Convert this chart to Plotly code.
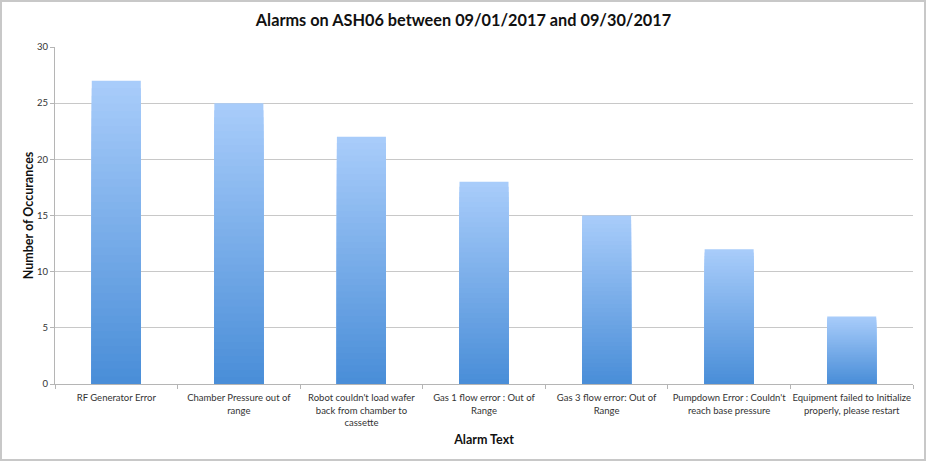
import plotly.graph_objects as go

# alarm categories and counts
alarm_text = [
    "RF Generator Error",
    "Chamber Pressure out of<br>range",
    "Robot couldn't load wafer<br>back from chamber to<br>cassette",
    "Gas 1 flow error : Out of<br>Range",
    "Gas 3 flow error: Out of<br>Range",
    "Pumpdown Error : Couldn't<br>reach base pressure",
    "Equipment failed to Initialize<br>properly, please restart",
]
occurrences = [27, 25, 22, 18, 15, 12, 6]

y_ticks = [0, 5, 10, 15, 20, 25, 30]

top_rgb = (168, 204, 250)
bottom_rgb = (74, 142, 216)
n_layers = 40

fig = go.Figure()
# vertical gradient: stack shrinking overlaid bars, light on top, dark at the base
for k in range(n_layers):
    t = k / (n_layers - 1)
    c = tuple(round(a + (b - a) * t) for a, b in zip(top_rgb, bottom_rgb))
    frac = 1 - k / n_layers
    fig.add_trace(go.Bar(
        x=alarm_text,
        y=[v * frac for v in occurrences],
        marker=dict(color="rgb(%d,%d,%d)" % c, line=dict(width=0)),
        width=0.4,
        hoverinfo="skip" if k else None,
        customdata=occurrences,
        hovertemplate="%{x}: %{customdata}<extra></extra>",
        showlegend=False,
    ))

font = "Lato, 'Open Sans', sans-serif"
fig.update_layout(
    barmode="overlay",
    width=927, height=462,
    margin=dict(l=55, r=14, t=47, b=78),
    paper_bgcolor="white",
    plot_bgcolor="white",
    font=dict(family=font, size=9.5, color="#333333"),
    title=dict(text="<b>Alarms on ASH06 between 09/01/2017 and 09/30/2017</b>",
               x=0.5, xanchor="center", y=0.955, yanchor="middle",
               font=dict(size=16.3, color="#111111")),
    xaxis=dict(
        title=dict(text="<b>Alarm Text</b>", font=dict(size=12.5, color="#111111"), standoff=8),
        showline=True, linecolor="#b5b5b5", linewidth=1,
        ticks="outside", tickson="boundaries", ticklen=4, tickcolor="#b5b5b5",
        ticklabelstandoff=5,
        showgrid=False, tickangle=0,
    ),
    yaxis=dict(
        title=dict(text="<b>Number of Occurances</b>", font=dict(size=12.5, color="#111111"), standoff=0),
        range=[0, 30], tickvals=y_ticks,
        showline=True, linecolor="#b5b5b5", linewidth=1,
        ticks="outside", ticklen=4, tickcolor="#b5b5b5",
        showgrid=True, gridcolor="#c8c8c8", gridwidth=1,
        zeroline=False,
    ),
    shapes=[dict(
        type="rect", xref="paper", yref="paper",
        x0=-54 / 858, x1=1 + 12 / 858, y0=-76 / 337, y1=1 + 46 / 337,
        line=dict(color="#c8c8c8", width=2), fillcolor="rgba(0,0,0,0)",
    )],
)

fig.write_html("out.html", config={"displayModeBar": False},
               post_script="document.body.style.margin='0';")
